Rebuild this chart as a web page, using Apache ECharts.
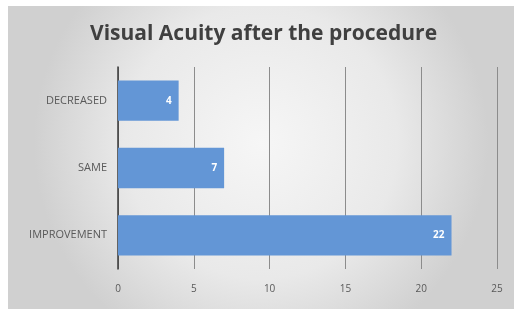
<!DOCTYPE html>
<html>
<head>
<meta charset="utf-8">
<script src="https://cdn.jsdelivr.net/npm/echarts@6/dist/echarts.min.js"></script>
<style>
  html, body { margin: 0; padding: 0; background: #fff; }
  #chart { width: 514px; height: 309px; }
</style>
</head>
<body>
<div id="chart"></div>
<script>
// data
var categories = ['IMPROVEMENT', 'SAME', 'DECREASED'];
var counts = [22, 7, 4];
var xTicks = [0, 5, 10, 15, 20, 25];

var chart = echarts.init(document.getElementById('chart'));

var option = {
  backgroundColor: '#ffffff',
  graphic: [
    {
      type: 'rect',
      left: 8,
      top: 6,
      shape: { width: 506, height: 303 },
      style: {
        fill: new echarts.graphic.RadialGradient(0.5, 0.45, 0.75, [
          { offset: 0, color: '#f6f6f6' },
          { offset: 0.6, color: '#e9e9e9' },
          { offset: 1, color: '#d0d0d0' }
        ])
      },
      z: -10
    }
  ],
  title: {
    text: 'Visual Acuity after the procedure',
    left: 85,
    top: 19,
    textStyle: {
      fontFamily: 'Open Sans',
      fontWeight: 'bold',
      fontSize: 21,
      color: '#404040'
    }
  },
  grid: {
    left: 118,
    right: 17,
    top: 67,
    bottom: 40
  },
  xAxis: {
    type: 'value',
    min: xTicks[0],
    max: xTicks[xTicks.length - 1],
    interval: 5,
    axisLine: { show: false },
    axisTick: { show: false },
    axisLabel: {
      margin: 15,
      fontFamily: 'Open Sans',
      fontSize: 10,
      color: '#595959'
    },
    splitLine: {
      lineStyle: { color: '#8c8c8c', width: 1 }
    }
  },
  yAxis: {
    type: 'category',
    data: categories,
    axisLine: { show: true, lineStyle: { color: '#3a3a3a', width: 1.5 } },
    axisTick: { show: false },
    axisLabel: {
      margin: 11,
      fontFamily: 'Open Sans',
      fontSize: 11,
      color: '#595959'
    }
  },
  series: [
    {
      type: 'bar',
      data: counts,
      barWidth: '60%',
      itemStyle: { color: '#6396d6' },
      label: {
        show: true,
        position: 'insideRight',
        distance: 7,
        color: '#ffffff',
        fontWeight: 'bold',
        fontFamily: 'Open Sans',
        fontSize: 10
      }
    }
  ]
};

chart.setOption(option);
</script>
</body>
</html>
